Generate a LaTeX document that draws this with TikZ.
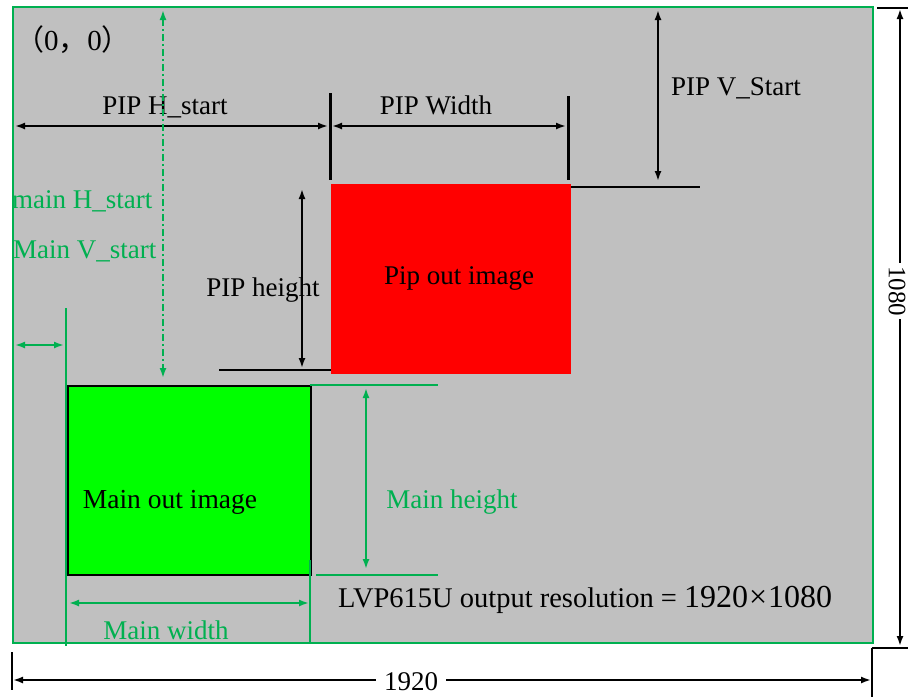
\documentclass[tikz,border=0pt]{standalone}
\usepackage{fontspec}
\setmainfont{Liberation Serif}
\newfontfamily\cjk{Noto Sans CJK SC}
\usetikzlibrary{arrows.meta}
\definecolor{bg}{HTML}{C0C0C0}
\definecolor{lgreen}{HTML}{00B050}
\definecolor{bgreen}{HTML}{00FF00}
\begin{document}
\begin{tikzpicture}[x=1pt,y=-1pt,
  txt/.style={inner sep=0pt,font=\fontsize{27}{30}\selectfont},
  gtxt/.style={txt,text=lgreen},
  dim/.style={line width=1.8pt,{Latex[length=10pt,width=7pt]}-{Latex[length=10pt,width=7pt]}},
  gdim/.style={dim,draw=lgreen},
  tick/.style={line width=3pt},
  gline/.style={draw=lgreen,line width=2.5pt},
  bline/.style={line width=2.5pt}]
\useasboundingbox (0,0) rectangle (908,697);
\fill[white] (0,0) rectangle (908,697);
% screen
\node[inner sep=0pt,fill=bg,draw=lgreen,line width=2pt,minimum width=860pt,minimum height=636pt,anchor=north west] (screen) at (12,6) {};
% rectangles
\node[inner sep=0pt,fill=red,minimum width=240pt,minimum height=190pt,anchor=north west] (pip) at (331,184) {};
\node[inner sep=0pt,fill=bgreen,draw=black,line width=2pt,minimum width=243pt,minimum height=189pt,anchor=north west] (main) at (67,385) {};
\node[txt,anchor=base] (piptxt) at (459,284) {Pip out image};
\node[txt,anchor=base,font=\fontsize{27.5}{30}\selectfont] (maintxt) at (170,508) {Main out image};
% origin label
\node[inner sep=0pt,font=\fontsize{29}{32}\selectfont,anchor=center] (origin) at (73,40) {{\cjk （}0{\cjk ，}0{\cjk ）}};
% PIP H_start / width
\coordinate (hs1) at (15,126);
\coordinate (hs2) at (328,126);
\draw[dim] (hs1) -- (hs2);
\node[txt,anchor=base] (hslbl) at (165,114) {PIP H\_start};
\coordinate (t1a) at (330,93); \coordinate (t1b) at (330,180);
\draw[tick] (t1a) -- (t1b);
\coordinate (t2a) at (568,96); \coordinate (t2b) at (568,180);
\draw[tick] (t2a) -- (t2b);
\coordinate (pw1) at (332,126); \coordinate (pw2) at (566,126);
\draw[dim] (pw1) -- (pw2);
\node[txt,anchor=base] (pwlbl) at (436,114) {PIP Width};
% PIP V_start
\coordinate (pl1) at (571,187); \coordinate (pl2) at (700,187);
\draw[bline] (pl1) -- (pl2);
\coordinate (pv1) at (658,10); \coordinate (pv2) at (658,181);
\draw[dim] (pv1) -- (pv2);
\node[txt,anchor=base] (pvlbl) at (736,95) {PIP V\_Start};
% PIP height
\coordinate (ph1) at (302,189); \coordinate (ph2) at (302,368);
\draw[dim] (ph1) -- (ph2);
\coordinate (hl1) at (219,370); \coordinate (hl2) at (331,370);
\draw[bline] (hl1) -- (hl2);
\node[txt,anchor=base] (phlbl) at (263,296) {PIP height};
% main V_start dash-dot
\coordinate (dd1) at (163,10); \coordinate (dd2) at (163,378);
\draw[gdim,dash pattern=on 7pt off 3pt on 2pt off 3pt] (dd1) -- (dd2);
\node[gtxt,anchor=base west] (mhlbl) at (12,208) {main H\_start};
\node[gtxt,anchor=base west] (mvlbl) at (13,258) {Main V\_start};
% main H_start
\coordinate (gv1) at (66,308); \coordinate (gv2) at (66,646);
\draw[gline] (gv1) -- (gv2);
\coordinate (mh1) at (15,345); \coordinate (mh2) at (64,345);
\draw[gdim] (mh1) -- (mh2);
% main height
\coordinate (gl1) at (310,385); \coordinate (gl2) at (438,385);
\draw[gline] (gl1) -- (gl2);
\coordinate (gl3) at (316,575); \coordinate (gl4) at (438,575);
\draw[gline] (gl3) -- (gl4);
\coordinate (mht1) at (366,388); \coordinate (mht2) at (366,569);
\draw[gdim] (mht1) -- (mht2);
\node[gtxt,anchor=base] (mhtlbl) at (452,508) {Main height};
% main width
\coordinate (gv3) at (310,560); \coordinate (gv4) at (310,642);
\draw[gline] (gv3) -- (gv4);
\coordinate (mw1) at (69,603); \coordinate (mw2) at (309,603);
\draw[gdim] (mw1) -- (mw2);
\node[gtxt,anchor=base] (mwlbl) at (166,639) {Main width};
% resolution text
\node[inner sep=0pt,anchor=base west] (res) at (338,607) {\fontsize{28.5}{30}\selectfont LVP615U output resolution = {\fontsize{32}{36}\selectfont 1920\kern1pt×\kern1pt1080}};
% bottom 1920
\coordinate (bt1) at (12,652); \coordinate (bt2) at (12,690);
\draw[tick,line width=2pt] (bt1) -- (bt2);
\coordinate (bt3) at (872,648); \coordinate (bt4) at (872,697);
\draw[tick,line width=2pt] (bt3) -- (bt4);
\coordinate (bw1) at (13,680); \coordinate (bw2) at (871,680);
\draw[dim] (bw1) -- (bw2);
\node[txt,fill=white,inner xsep=8pt,inner ysep=2pt] (wlbl) at (411,682) {1920};
% right 1080
\coordinate (rt1) at (877,8); \coordinate (rt2) at (908,8);
\draw[tick,line width=2pt] (rt1) -- (rt2);
\coordinate (rt3) at (872,648); \coordinate (rt4) at (908,648);
\draw[tick,line width=2pt] (rt3) -- (rt4);
\coordinate (rh1) at (900,9); \coordinate (rh2) at (900,646);
\draw[dim] (rh1) -- (rh2);
\node[inner sep=0pt,font=\fontsize{25}{28}\selectfont,fill=white,inner xsep=3pt,inner ysep=1pt,rotate=-90] (hlbl) at (897,291) {1080};
\end{tikzpicture}
\end{document}
